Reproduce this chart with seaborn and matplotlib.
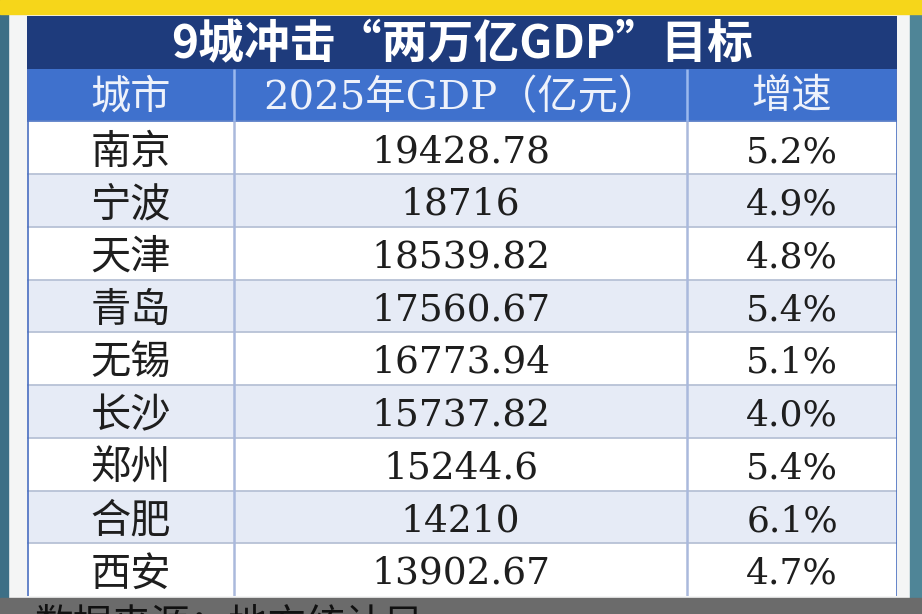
import numpy as np
import pandas as pd
import matplotlib
matplotlib.use("Agg")
import matplotlib.pyplot as plt
from matplotlib.colors import ListedColormap
from matplotlib.patches import Rectangle
import seaborn as sns

# table content
title = "9城冲击“两万亿GDP”目标"
headers = ["城市", "2025年GDP（亿元）", "增速"]
cities = ["南京", "宁波", "天津", "青岛", "无锡", "长沙", "郑州", "合肥", "西安"]
gdp = ["19428.78", "18716", "18539.82", "17560.67", "16773.94",
       "15737.82", "15244.6", "14210", "13902.67"]
growth = ["5.2%", "4.9%", "4.8%", "5.4%", "5.1%", "4.0%", "5.4%", "6.1%", "4.7%"]
source = "数据来源：地方统计局"

W, H = 922, 614
sns.set_theme(style="white")
plt.rcParams['font.family'] = ['Noto Sans CJK SC', 'DejaVu Sans']

col_edges = [0, 207, 660, 870]
n_rows = len(cities) + 2

# cell kind: 3 title, 2 header, 0/1 striped rows
kind = [3, 2] + [i % 2 for i in range(len(cities))]
grid = pd.DataFrame(np.repeat(np.array(kind)[:, None], col_edges[-1], axis=1))

fig = plt.figure(figsize=(W / 100, H / 100), dpi=100)
fig.patch.set_facecolor("#f4f5f5")

# surroundings of the screenshot
fig.patches.extend([
    Rectangle((0, 0), 8 / W, 1, transform=fig.transFigure, color="#3d6f86", zorder=0),
    Rectangle((910 / W, 0), 12 / W, 1, transform=fig.transFigure, color="#4f8597", zorder=0),
    Rectangle((0, 1 - 14 / H), 1, 14 / H, transform=fig.transFigure, color="#f6d61a", zorder=0),
    Rectangle((0, 0), 1, 16 / H, transform=fig.transFigure, color="#6b6b6b", zorder=0),
])

ax = fig.add_axes([27 / W, 1 - 596 / H, 870 / W, 580 / H])
cmap = ListedColormap(["#ffffff", "#e6ebf6", "#3f71cd", "#1e3b7c"])
sns.heatmap(grid, ax=ax, cmap=cmap, vmin=-0.5, vmax=3.5, cbar=False,
            xticklabels=False, yticklabels=False)

# grid lines
ax.hlines(range(3, n_rows), 0, col_edges[-1], color="#b7c1d6", lw=1.3)
ax.hlines(2, 0, col_edges[-1], color="#5a7fc8", lw=1.3)
ax.vlines(col_edges[1:3], 2, n_rows, color="#aab9dc", lw=1.8)
ax.vlines(col_edges[1:3], 1, 2, color="#9ab8ee", lw=1.8)
ax.vlines([0.5, col_edges[-1] - 0.5], 1, n_rows, color="#4a6fc0", lw=1.2)

centers = [(col_edges[i] + col_edges[i + 1]) / 2 for i in range(3)]

ax.text(col_edges[-1] / 2, 0.55, title, ha="center", va="center",
        color="white", fontsize=33, fontweight="bold")

for c, h in zip(centers, headers):
    ax.text(c, 1.55, h, ha="center", va="center", color="#eef2fb",
            fontsize=29, family=["DejaVu Serif", "Noto Sans CJK SC"])

for r in range(len(cities)):
    y = r + 2.58
    ax.text(centers[0], y, cities[r], ha="center", va="center",
            color="#1e1e1e", fontsize=29, fontweight="light")
    ax.text(centers[1], y, gdp[r], ha="center", va="center",
            color="#1e1e1e", fontsize=27, family="DejaVu Serif")
    ax.text(centers[2], y, growth[r], ha="center", va="center",
            color="#1e1e1e", fontsize=26, family="DejaVu Serif")

fig.text(35 / W, 1 - 606 / H, source, ha="left", va="top",
         color="#111111", fontsize=28)

fig.savefig("out.png", dpi=100)
